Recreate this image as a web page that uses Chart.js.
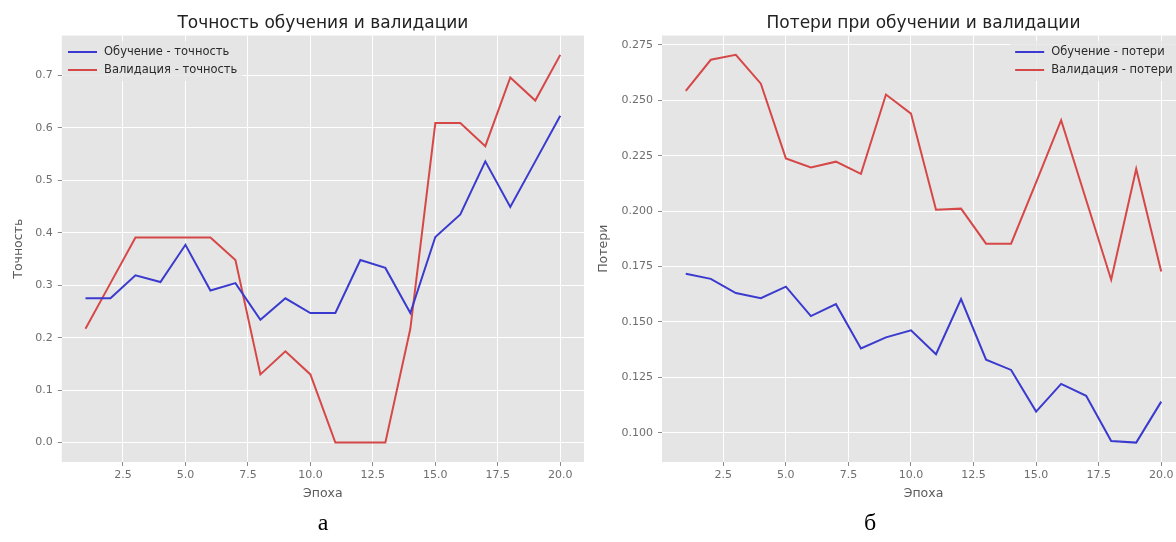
<!DOCTYPE html>
<html lang="ru">
<head>
<meta charset="utf-8">
<title>Точность и потери</title>
<script src="https://cdn.jsdelivr.net/npm/chart.js@4.4.1/dist/chart.umd.min.js"></script>
<style>
  html, body { margin: 0; padding: 0; background: #fff; }
  body { width: 1176px; height: 542px; overflow: hidden; position: relative; }
  .wrap { position: absolute; top: 0; height: 542px; }
  #wrapAcc { left: 0; width: 600px; }
  #wrapLoss { left: 590px; width: 610px; }
  .caption { position: absolute; top: 510px; font: 24px "Liberation Serif", "DejaVu Serif", serif; color: #000;
             line-height: 24px; transform: translateX(-50%); }
</style>
</head>
<body>
<div class="wrap" id="wrapAcc"><canvas id="accChart" width="600" height="542"></canvas></div>
<div class="wrap" id="wrapLoss"><canvas id="lossChart" width="610" height="542"></canvas></div>
<div class="caption" style="left:323px">а</div>
<div class="caption" style="left:870px">б</div>
<script>
// ---- training history, 20 epochs ----
const epochs = [1, 2, 3, 4, 5, 6, 7, 8, 9, 10, 11, 12, 13, 14, 15, 16, 17, 18, 19, 20];

const trainAccuracy = [0.275, 0.275, 0.319, 0.306, 0.377, 0.290, 0.304, 0.234, 0.275, 0.247,
                       0.247, 0.348, 0.333, 0.247, 0.392, 0.435, 0.536, 0.449, 0.536, 0.623];
const valAccuracy   = [0.217, 0.304, 0.391, 0.391, 0.391, 0.391, 0.348, 0.130, 0.174, 0.130,
                       0.000, 0.000, 0.000, 0.217, 0.609, 0.609, 0.565, 0.696, 0.652, 0.739];

const trainLoss = [0.1717, 0.1694, 0.1630, 0.1607, 0.1659, 0.1526, 0.1580, 0.1380, 0.1430, 0.1462,
                   0.1354, 0.1603, 0.1329, 0.1283, 0.1095, 0.1220, 0.1166, 0.0962, 0.0955, 0.1140];
const valLoss   = [0.2543, 0.2683, 0.2705, 0.2575, 0.2238, 0.2197, 0.2223, 0.2168, 0.2526, 0.2440,
                   0.2006, 0.2011, 0.1853, 0.1853, 0.2130, 0.2410, 0.2050, 0.1690, 0.2190, 0.1727];

// ---- tick labels ----
const epochTicks = [2.5, 5, 7.5, 10, 12.5, 15, 17.5, 20];
const accTicks   = [0.0, 0.1, 0.2, 0.3, 0.4, 0.5, 0.6, 0.7];
const lossTicks  = [0.100, 0.125, 0.150, 0.175, 0.200, 0.225, 0.250, 0.275];

// ---- text ----
const accTitle  = 'Точность обучения и валидации';
const lossTitle = 'Потери при обучении и валидации';
const xLabel    = 'Эпоха';
const accLabel  = 'Точность';
const lossLabel = 'Потери';
const accSeriesNames  = ['Обучение - точность', 'Валидация - точность'];
const lossSeriesNames = ['Обучение - потери', 'Валидация - потери'];

// ---- colours ----
const BLUE = '#3a3ace';
const RED  = '#d64848';
const PANEL = '#e5e5e5';
const FONT = '"DejaVu Sans", "Liberation Sans", sans-serif';

Chart.defaults.font.family = FONT;

// autoscale with a 5% margin on each side
function padded(values) {
  const lo = Math.min(...values), hi = Math.max(...values);
  const m = (hi - lo) * 0.05;
  return { min: lo - m, max: hi + m };
}

const toPoints = (ys) => epochs.map((e, i) => ({ x: e, y: ys[i] }));

// grey panel behind the grid
const panelPlugin = {
  id: 'panel',
  beforeDraw(chart) {
    const { ctx, chartArea: a } = chart;
    ctx.save();
    ctx.fillStyle = PANEL;
    ctx.fillRect(a.left, a.top, a.right - a.left, a.bottom - a.top);
    ctx.restore();
  }
};

// title above the panel
const headingPlugin = {
  id: 'heading',
  afterDraw(chart, args, opts) {
    const { ctx, chartArea: a } = chart;
    ctx.save();
    ctx.font = '17px ' + FONT;
    ctx.fillStyle = '#222222';
    ctx.textAlign = 'center';
    ctx.textBaseline = 'alphabetic';
    ctx.fillText(opts.text, (a.left + a.right) / 2, 28);
    ctx.restore();
  }
};

// legend drawn inside the panel
const insideLegendPlugin = {
  id: 'insideLegend',
  afterDatasetsDraw(chart, args, opts) {
    const { ctx, chartArea: a } = chart;
    const sets = chart.data.datasets;
    ctx.save();
    ctx.font = '11.5px ' + FONT;
    const handle = 29, gap = 7, row = 18, firstRow = 16.5;
    const textW = Math.max(...sets.map(d => ctx.measureText(d.label).width));
    const w = handle + gap + textW;
    const x0 = opts.align === 'right' ? a.right - opts.edge - w : a.left + opts.edge;
    // semi-opaque background
    const fx = x0 - 5, fy = a.top + firstRow - 11, fw = w + 10, fh = row * (sets.length - 1) + 22;
    ctx.fillStyle = 'rgba(229,229,229,0.8)';
    ctx.beginPath();
    ctx.roundRect(fx, fy, fw, fh, 3);
    ctx.fill();
    sets.forEach((d, i) => {
      const y = a.top + firstRow + i * row;
      ctx.strokeStyle = d.borderColor;
      ctx.lineWidth = d.borderWidth;
      ctx.beginPath();
      ctx.moveTo(x0, y);
      ctx.lineTo(x0 + handle, y);
      ctx.stroke();
      ctx.fillStyle = '#2a2a2a';
      ctx.textAlign = 'left';
      ctx.textBaseline = 'middle';
      ctx.fillText(d.label, x0 + handle + gap, y);
    });
    ctx.restore();
  }
};

function makeChart(canvasId, cfg) {
  const xr = padded(epochs);
  const yr = padded(cfg.series[0].concat(cfg.series[1]));
  const tickFont = { size: 11, family: FONT };
  const gridOpts = { color: '#ffffff', lineWidth: 1, tickColor: '#8a8a8a', tickLength: 4, drawTicks: true };
  return new Chart(document.getElementById(canvasId), {
    type: 'line',
    data: {
      datasets: [
        { label: cfg.names[0], data: toPoints(cfg.series[0]), borderColor: BLUE, backgroundColor: BLUE,
          borderWidth: 2, pointRadius: 0, tension: 0, fill: false },
        { label: cfg.names[1], data: toPoints(cfg.series[1]), borderColor: RED, backgroundColor: RED,
          borderWidth: 2, pointRadius: 0, tension: 0, fill: false }
      ]
    },
    options: {
      responsive: false,
      animation: false,
      devicePixelRatio: 1,
      layout: { padding: { left: 0, right: cfg.padRight, top: 35.5, bottom: 30 } },
      plugins: {
        legend: { display: false },
        title: { display: false },
        tooltip: { enabled: false },
        heading: { text: cfg.title },
        insideLegend: { align: cfg.legendAlign, edge: cfg.legendEdge }
      },
      scales: {
        x: {
          type: 'linear',
          min: xr.min, max: xr.max,
          grid: gridOpts,
          border: { display: false },
          afterBuildTicks: (s) => { s.ticks = epochTicks.map(v => ({ value: v })); },
          afterFit: (s) => { s.height = 50; },
          ticks: { font: tickFont, color: '#6e6e6e', padding: 3, maxRotation: 0,
                   callback: (v) => Number(v).toFixed(1) },
          title: { display: true, text: xLabel, color: '#5a5a5a', font: { size: 12.5, family: FONT },
                   padding: { top: 0, bottom: 10.5 } }
        },
        y: {
          type: 'linear',
          min: yr.min, max: yr.max,
          grid: gridOpts,
          border: { display: false },
          afterBuildTicks: (s) => { s.ticks = cfg.yTicks.map(v => ({ value: v })); },
          afterFit: (s) => { s.width = cfg.yAxisWidth; },
          ticks: { font: tickFont, color: '#6e6e6e', padding: 5,
                   callback: (v) => Number(v).toFixed(cfg.decimals) },
          title: { display: true, text: cfg.yLabel, color: '#5a5a5a', font: { size: 12.5, family: FONT },
                   padding: { top: cfg.yTitlePad, bottom: 0 } }
        }
      }
    },
    plugins: [panelPlugin, headingPlugin, insideLegendPlugin]
  });
}

makeChart('accChart', {
  title: accTitle, yLabel: accLabel, names: accSeriesNames,
  series: [trainAccuracy, valAccuracy], yTicks: accTicks, decimals: 1,
  yAxisWidth: 61.75, padRight: 16, yTitlePad: 10.8,
  legendAlign: 'left', legendEdge: 6.25
});

makeChart('lossChart', {
  title: lossTitle, yLabel: lossLabel, names: lossSeriesNames,
  series: [trainLoss, valLoss], yTicks: lossTicks, decimals: 3,
  yAxisWidth: 72, padRight: 15, yTitlePad: 5.8,
  legendAlign: 'right', legendEdge: 12.3
});
</script>
</body>
</html>
